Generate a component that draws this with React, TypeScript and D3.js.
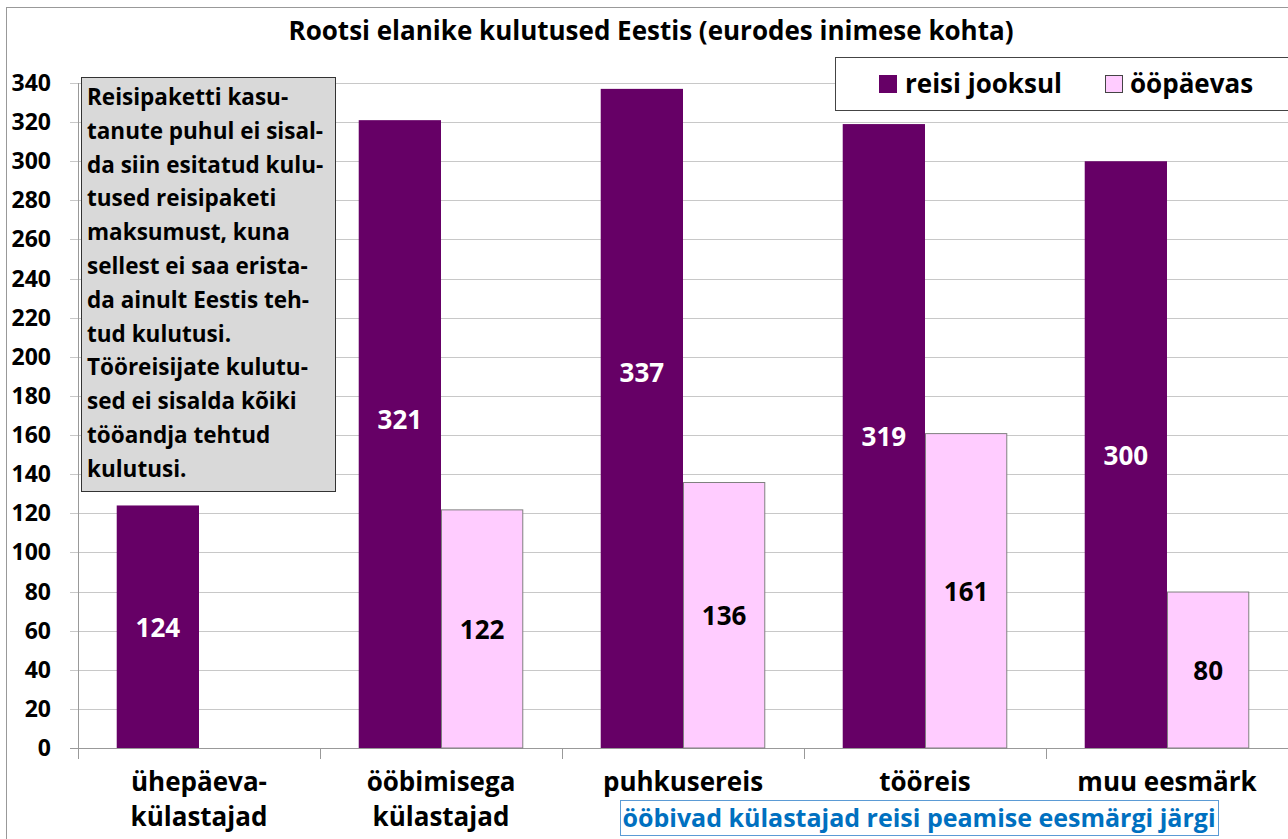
import React from 'react';
import * as d3 from 'd3';

const categories = ['ühepäeva-\nkülastajad', 'ööbimisega\nkülastajad', 'puhkusereis', 'tööreis', 'muu eesmärk'];
const seriesNames = ['reisi jooksul', 'ööpäevas'];
const duringTrip = [124, 321, 337, 319, 300];
const perDay: (number | null)[] = [null, 122, 136, 161, 80];
// label anchor in data units (null = middle of bar)
const tripLabelAt: (number | null)[] = [null, 168, 192, null, null];
const yTicks = d3.range(0, 341, 20);

const noteLines = [
  'Reisipaketti kasu-',
  'tanute puhul ei sisal-',
  'da siin esitatud kulu-',
  'tused reisipaketi',
  'maksumust, kuna',
  'sellest ei saa erista-',
  'da ainult Eestis teh-',
  'tud kulutusi.',
  'Tööreisijate kulutu-',
  'sed ei sisalda kõiki',
  'tööandja tehtud',
  'kulutusi.',
];

const title = 'Rootsi elanike kulutused Eestis (eurodes inimese kohta)';
const subLabel = 'ööbivad külastajad reisi peamise eesmärgi järgi';

const W = 1288;
const H = 839;
const margin = { top: 83, right: 0, bottom: 91, left: 78 };
const font = '"Open Sans", Lato, sans-serif';
const purple = '#660066';
const pink = '#ffccff';

const App: React.FC = () => {
  const x = d3
    .scaleBand<string>()
    .domain(categories)
    .range([margin.left, W - margin.right]);
  const y = d3
    .scaleLinear()
    .domain([0, 340])
    .range([H - margin.bottom, margin.top]);

  const bw = x.bandwidth();
  const barW = bw * 0.34;
  const y0 = y(0);

  return (
    <svg
      width={W}
      height={H}
      style={{ position: 'absolute', left: 0, top: 0, background: '#fff' }}
      fontFamily={font}
      fontWeight="bold"
    >
      {/* chart border */}
      <rect x={6.5} y={7.5} width={W} height={H} fill="none" stroke="#999" />

      <text x={651} y={40} textAnchor="middle" fontSize={26}>
        {title}
      </text>

      {/* gridlines */}
      {yTicks.map((t) => (
        <g key={t}>
          <line x1={70} x2={W} y1={Math.round(y(t)) + 0.5} y2={Math.round(y(t)) + 0.5} stroke={t === 0 ? '#999' : '#c8c8c8'} />
          <text x={51} y={y(t) + 8} textAnchor="end" fontSize={23}>
            {t}
          </text>
        </g>
      ))}
      <line x1={78.5} x2={78.5} y1={margin.top} y2={y0} stroke="#999" />

      {/* category ticks */}
      {categories.map((c) => (
        <line key={c} x1={Math.round(x(c)!) + 0.5} x2={Math.round(x(c)!) + 0.5} y1={y0} y2={y0 + 11} stroke="#999" />
      ))}

      {/* bars */}
      {categories.map((c, i) => {
        const cx = x(c)! + bw / 2;
        const v1 = duringTrip[i];
        const v2 = perDay[i];
        const la = tripLabelAt[i];
        return (
          <g key={c}>
            <rect x={cx - barW} y={y(v1)} width={barW} height={y0 - y(v1)} fill={purple} />
            <text
              x={cx - barW / 2}
              y={(la === null ? (y(v1) + y0) / 2 : y(la)) + 10}
              textAnchor="middle"
              fontSize={26}
              fill="#fff"
            >
              {v1}
            </text>
            {v2 !== null && (
              <>
                <rect x={cx + 0.5} y={y(v2) + 0.5} width={barW - 1} height={y0 - y(v2) - 0.5} fill={pink} stroke="#808080" />
                <text x={cx + barW / 2} y={(y(v2) + y0) / 2 + 10} textAnchor="middle" fontSize={26} fill="#000">
                  {v2}
                </text>
              </>
            )}
            {c.split('\n').map((line, j) => (
              <text key={j} x={cx} y={y0 + 43 + j * 35} textAnchor="middle" fontSize={26}>
                {line}
              </text>
            ))}
          </g>
        );
      })}

      {/* note box */}
      <rect x={81.5} y={77.5} width={254} height={414} fill="#d9d9d9" stroke="#333" />
      {noteLines.map((l, i) => (
        <text key={i} x={87} y={105 + i * 33.8} fontSize={22.5}>
          {l}
        </text>
      ))}

      {/* legend */}
      <rect x={835.5} y={57.5} width={460} height={53} fill="#fff" stroke="#444" />
      <rect x={879} y={75} width={18} height={18} fill={purple} />
      <text x={905} y={93} fontSize={26}>
        {seriesNames[0]}
      </text>
      <rect x={1105.5} y={75.5} width={17} height={17} fill={pink} stroke="#444" />
      <text x={1130} y={93} fontSize={26}>
        {seriesNames[1]}
      </text>

      {/* sub label */}
      <rect x={620.5} y={800.5} width={598} height={35} fill="#fff" stroke="#5b9bd5" />
      <text x={919} y={827} textAnchor="middle" fontSize={25} fill="#0070c0">
        {subLabel}
      </text>
    </svg>
  );
};

export default App;
